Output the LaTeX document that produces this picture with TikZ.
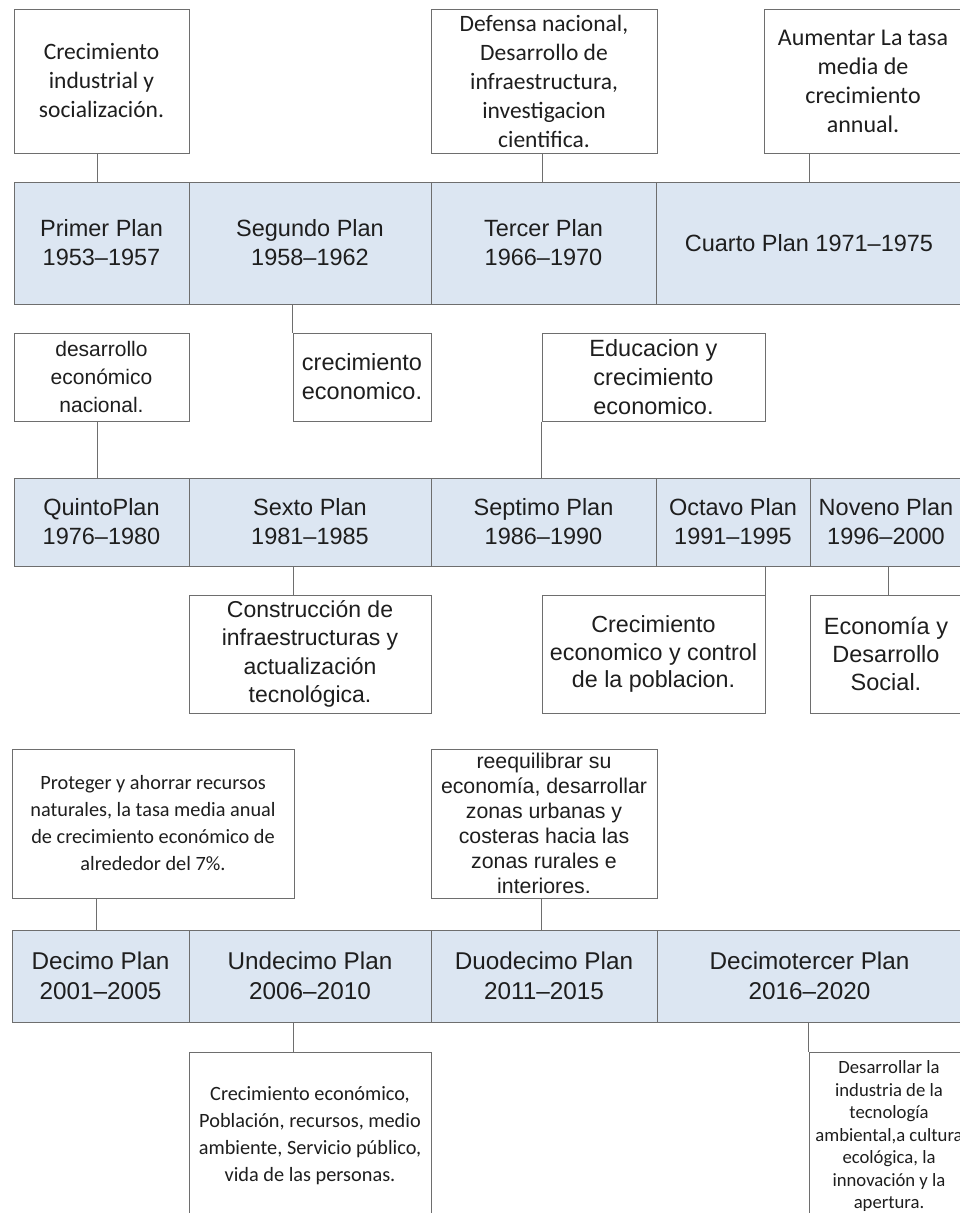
\documentclass[tikz,border=0pt]{standalone}
\usepackage{fontspec}
\newfontfamily\arialf[Ligatures=TeX]{Liberation Sans}
\newfontfamily\calf[Ligatures=TeX]{Carlito}
\definecolor{cellfill}{HTML}{DCE6F2}
\definecolor{edgec}{HTML}{6E6E6E}
\definecolor{ink}{HTML}{1E1E1E}
\tikzset{
  plancell/.style={draw=edgec, line width=1pt, fill=cellfill, text=ink, align=center, inner sep=0pt},
  descbox/.style={draw=edgec, line width=1pt, fill=white, text=ink, align=center, inner sep=0pt},
  link/.style={draw=edgec, line width=1pt},
  rowfont/.style={font=\arialf\fontsize{23.5}{29}\selectfont},
  rowfontb/.style={font=\arialf\fontsize{24.3}{30}\selectfont},
  arbig/.style={font=\arialf\fontsize{23.5}{29}\selectfont},
  calbig/.style={font=\calf\fontsize{23.5}{29}\selectfont},
  calsmall/.style={font=\calf\fontsize{20.3}{27}\selectfont}
}
\begin{document}
\begin{tikzpicture}[x=1pt,y=-1pt]
\useasboundingbox (0,0) rectangle (960,1213);
\clip (0,0) rectangle (960,1213);

% ---- Row 1
\node[plancell, rowfont, minimum width=175, minimum height=122] (p1) at (101.5,243) {Primer Plan\\1953–1957};
\node[plancell, rowfont, minimum width=242, minimum height=122] (p2) at (310,243) {Segundo Plan\\1958–1962};
\node[plancell, rowfont, minimum width=225, minimum height=122] (p3) at (543.5,243) {Tercer Plan\\1966–1970};
\node[plancell, rowfont, minimum width=306, minimum height=122] (p4) at (809,243) {Cuarto Plan 1971–1975};

% ---- Row 2
\node[plancell, rowfont, minimum width=175, minimum height=88] (p5) at (101.5,522) {QuintoPlan\\1976–1980};
\node[plancell, rowfont, minimum width=242, minimum height=88] (p6) at (310,522) {Sexto Plan\\1981–1985};
\node[plancell, rowfont, minimum width=225, minimum height=88] (p7) at (543.5,522) {Septimo Plan\\1986–1990};
\node[plancell, rowfont, minimum width=154, minimum height=88] (p8) at (733,522) {Octavo Plan\\1991–1995};
\node[plancell, rowfont, minimum width=152, minimum height=88] (p9) at (886,522) {Noveno Plan\\1996–2000};

% ---- Row 3
\node[plancell, rowfontb, minimum width=177, minimum height=92] (p10) at (100.5,976) {Decimo Plan\\2001–2005};
\node[plancell, rowfontb, minimum width=242, minimum height=92] (p11) at (310,976) {Undecimo Plan\\2006–2010};
\node[plancell, rowfontb, minimum width=226, minimum height=92] (p12) at (544,976) {Duodecimo Plan\\2011–2015};
\node[plancell, rowfontb, minimum width=305, minimum height=92] (p13) at (809.5,976) {Decimotercer Plan\\2016–2020};

% ---- Description boxes, row 1
\node[descbox, calbig, minimum width=175, minimum height=144] (d1) at (101.5,81) {Crecimiento\\industrial y\\socialización.};
\node[descbox, calbig, minimum width=226, minimum height=144] (d3) at (544,81) {Defensa nacional,\\Desarrollo de\\infraestructura,\\investigacion\\cientifica.};
\node[descbox, font=\calf\fontsize{24}{29}\selectfont, minimum width=198, minimum height=144] (d4) at (863,81) {Aumentar La tasa\\media de\\crecimiento\\annual.};
\node[descbox, arbig, minimum width=138, minimum height=88] (d2) at (362,377) {crecimiento\\economico.};

% ---- Description boxes, row 2
\node[descbox, font=\arialf\fontsize{21}{28}\selectfont, minimum width=175, minimum height=88] (d5) at (101.5,377) {desarrollo\\económico\\nacional.};
\node[descbox, arbig, minimum width=223, minimum height=88] (d7) at (653.5,377) {Educacion y\\crecimiento\\economico.};
\node[descbox, font=\arialf\fontsize{23}{28.5}\selectfont, minimum width=242, minimum height=118] (d6) at (310,654) {Construcción de\\infraestructuras y\\actualización\\tecnológica.};
\node[descbox, font=\arialf\fontsize{23.3}{27.5}\selectfont, minimum width=223, minimum height=118] (d8) at (653.5,654) {Crecimiento\\economico y control\\de la poblacion.};
\node[descbox, font=\arialf\fontsize{23.5}{28}\selectfont, minimum width=152, minimum height=118] (d9) at (886,654) {Economía y\\Desarrollo\\Social.};

% ---- Description boxes, row 3
\node[descbox, calsmall, minimum width=282, minimum height=149] (d10) at (153,823.5) {Proteger y ahorrar recursos\\naturales, la tasa media anual\\de crecimiento económico de\\alrededor del 7\%.};
\node[descbox, font=\arialf\fontsize{21.3}{25}\selectfont, minimum width=226, minimum height=149] (d12) at (544,823.5) {reequilibrar su\\economía, desarrollar\\zonas urbanas y\\costeras hacia las\\zonas rurales e\\interiores.};
\node[descbox, calsmall, minimum width=242, minimum height=168] (d11) at (310,1136) {Crecimiento económico,\\Población, recursos, medio\\ambiente, Servicio público,\\vida de las personas.};
\node[descbox, font=\calf\fontsize{18.7}{22.5}\selectfont, minimum width=160, minimum height=168] (d13) at (889,1136) {Desarrollar la\\industria de la\\tecnología\\ambiental,a cultura\\ecológica, la\\innovación y la\\apertura.};

% ---- Connectors
\draw[link] ([xshift=-4.5pt]p1.north) -- ([xshift=-4.5pt]p1.north |- d1.south);
\draw[link] ([xshift=-1.5pt]p3.north) -- ([xshift=-1.5pt]p3.north |- d3.south);
\draw[link] (p4.north) -- (p4.north |- d4.south);
\draw[link] (d2.north west) -- (d2.north west |- p2.south);
\draw[link] ([xshift=-4.5pt]p5.north) -- ([xshift=-4.5pt]p5.north |- d5.south);
\draw[link] (d7.south west) -- (d7.south west |- p7.north);
\draw[link] ([xshift=-17pt]d6.north) -- ([xshift=-17pt]d6.north |- p6.south);
\draw[link] (d8.north east) -- (d8.north east |- p8.south);
\draw[link] ([xshift=2pt]d9.north) -- ([xshift=2pt]d9.north |- p9.south);
\draw[link] ([xshift=-4.5pt]p10.north) -- ([xshift=-4.5pt]p10.north |- d10.south);
\draw[link] ([xshift=-3pt]p12.north) -- ([xshift=-3pt]p12.north |- d12.south);
\draw[link] ([xshift=-17pt]d11.north) -- ([xshift=-17pt]d11.north |- p11.south);
\draw[link] (d13.north west) -- (d13.north west |- p13.south);
\end{tikzpicture}
\end{document}
